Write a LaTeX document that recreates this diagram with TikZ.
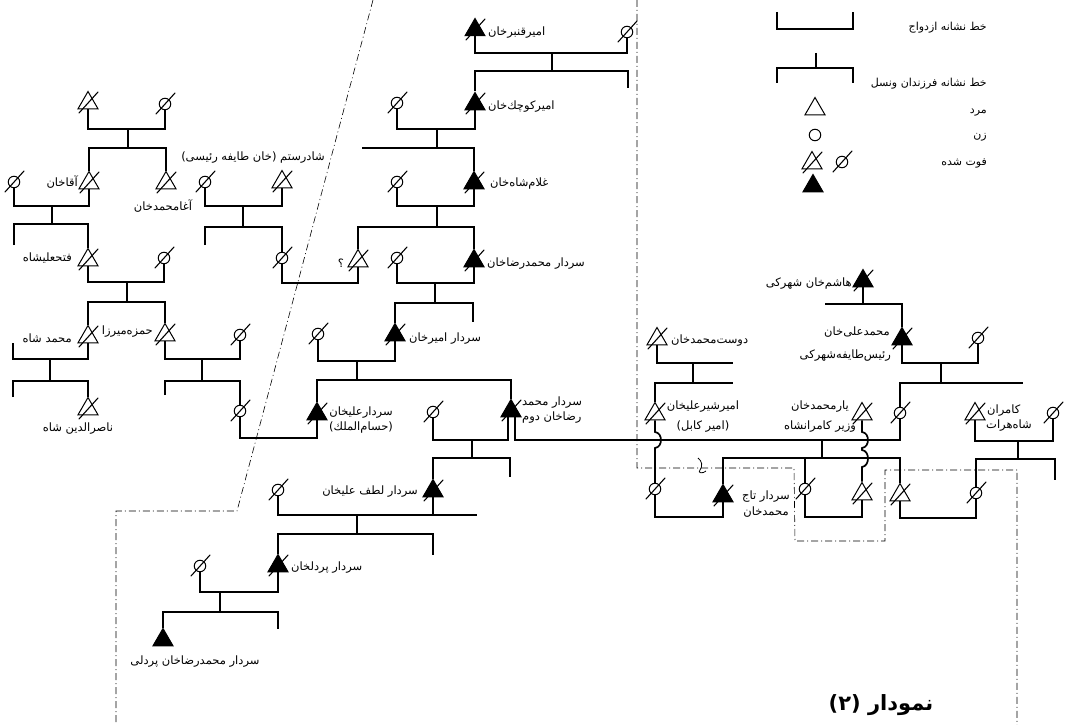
\documentclass[tikz,border=0pt]{standalone}
\usepackage{fontspec}
\usetikzlibrary{shapes.geometric,calc}
\newfontfamily\fa[Script=Arabic]{DejaVu Sans}
\newfontfamily\faL{DejaVu Sans}
\TeXXeTstate=1
\newcommand\rip[1]{\draw[slash] ($(#1.center)+(-9,10)$) -- ($(#1.center)+(10,-11)$);}
\newcommand\opp{{\faL(}}
\newcommand\clp{{\faL)}}
\begin{document}
\begin{tikzpicture}[x=1pt,y=-1pt,
 male/.style={regular polygon, regular polygon sides=3, minimum size=23pt, inner sep=0pt, draw, line width=1pt, fill=white},
 mf/.style={male, fill=black},
 female/.style={circle, minimum size=11.5pt, inner sep=0pt, draw, line width=1pt, fill=white},
 slash/.style={line width=1.1pt, line cap=round},
 tree/.style={line width=1.7pt},
 lbl/.style={font=\fa\fontsize{11.5}{13}\selectfont, inner sep=1pt},
 leg/.style={font=\fa\fontsize{11}{12}\selectfont, inner sep=1pt, anchor=east},
 bound/.style={line width=0.6pt, dash pattern=on 7pt off 3pt on 1pt off 3pt}]
\useasboundingbox (0,0) rectangle (1069,725);
\fill[white] (0,0) rectangle (1069,725);

% ---------- boundaries ----------
\draw[bound] (373,0) -- (237,511) -- (116,511) -- (116,725);
\draw[bound] (637,0) -- (637,468) -- (794,468) -- (795,541) -- (885,541) -- (885,470) -- (1017,470) -- (1017,725);
\draw[line width=0.8pt] (698,458) .. controls (702,461) and (703,466) .. (700,470) .. controls (697,473) and (703,474) .. (706,471);

% ---------- legend ----------
\draw[line width=1.2pt] (777,12) -- (777,29) -- (853,29) -- (853,12);
\draw[line width=1.2pt] (816,53) -- (816,68);
\draw[line width=1.2pt] (777,83) |- (853,68) -- (853,83);
\node[male] (legM) at (815,109) {};
\node[female] (legF) at (815,135) {};
\node[male] (legMd) at (812,163) {};
\node[female] (legFd) at (842,162) {};
\node[mf] (legMf) at (813,186) {};
\rip{legMd}\rip{legFd}
\node[leg] (lt1) at (988,28) {\beginR خط نشانه ازدواج\endR};
\node[leg] (lt2) at (988,84) {\beginR خط نشانه فرزندان ونسل\endR};
\node[leg] (lt3) at (988,113) {\beginR مرد\endR};
\node[leg] (lt4) at (988,137) {\beginR زن\endR};
\node[leg] (lt5) at (988,163) {\beginR فوت شده\endR};

% ---------- people ----------
\node[male] (qa1) at (88,103) {};
\node[female] (qa2) at (165,104) {};
\node[male] (aqa) at (89,183) {};
\node[male] (agha) at (166,183) {};
\node[female] (aqaw) at (14,182) {};
\node[male] (fath) at (88,260) {};
\node[female] (fathw) at (164,258) {};
\node[male] (mshah) at (88,337) {};
\node[male] (hamza) at (165,335) {};
\node[male] (naser) at (88,409) {};
\node[female] (hamzaw) at (240,335) {};
\node[female] (hamzad) at (240,411) {};
\node[male] (shr) at (282,182) {};
\node[female] (shrw) at (205,182) {};
\node[female] (shrd) at (282,258) {};
\node[male] (qm) at (358,261) {};
\node[mf] (qanbar) at (475,30) {};
\node[female] (qanbarw) at (627,32) {};
\node[mf] (kuchak) at (475,104) {};
\node[female] (kuchakw) at (397,103) {};
\node[mf] (gholam) at (474,183) {};
\node[female] (gholamw) at (397,182) {};
\node[mf] (mreza) at (474,261) {};
\node[female] (mrezaw) at (397,258) {};
\node[mf] (amir) at (395,335) {};
\node[female] (amirw) at (318,334) {};
\node[mf] (alikh) at (317,414) {};
\node[mf] (msII) at (511,411) {};
\node[female] (msIIw) at (433,412) {};
\node[mf] (lotf) at (433,491) {};
\node[female] (lotfw) at (278,490) {};
\node[mf] (pordel) at (278,566) {};
\node[female] (pordelw) at (200,566) {};
\node[mf] (mrp) at (163,640) {};
\node[mf] (hashem) at (863,281) {};
\node[mf] (mali) at (902,339) {};
\node[female] (maliw) at (978,338) {};
\node[female] (maliD) at (900,413) {};
\node[male] (dost) at (657,339) {};
\node[male] (shir) at (655,414) {};
\node[male] (yar) at (862,414) {};
\node[male] (kam) at (975,414) {};
\node[female] (kamw) at (1053,413) {};
\node[female] (shirD) at (655,489) {};
\node[mf] (taj) at (723,496) {};
\node[female] (msD) at (805,489) {};
\node[male] (yarS) at (862,494) {};
\node[male] (msS) at (900,495) {};
\node[female] (kamD) at (976,493) {};

\foreach \n in {qa1,qa2,aqa,agha,aqaw,fath,fathw,mshah,hamza,naser,hamzaw,hamzad,
  shr,shrw,shrd,qm,qanbar,qanbarw,kuchak,kuchakw,gholam,gholamw,mreza,mrezaw,
  amir,amirw,alikh,msII,msIIw,lotf,lotfw,pordel,pordelw,
  hashem,mali,maliw,maliD,dost,shir,yar,kam,kamw,shirD,taj,msD,yarS,msS,kamD}{\rip{\n}}

\coordinate (msIIa) at ([xshift=-3pt]msII.south);
\coordinate (msIIb) at ([xshift=4pt]msII.south);

% ---------- connectors ----------
\begin{scope}[tree]
\draw (qa1.south) |- (qa2.south |- 0,129) -- (qa2.south);
\draw (128,129) -- (128,148);
\draw (aqa.north) |- (agha.north |- 0,148) -- (agha.north);
\draw (aqaw.south) |- (aqa.south |- 0,206) -- (aqa.south);
\draw (52,206) -- (52,224);
\draw (14,245) |- (fath.north |- 0,224) -- (fath.north);
\draw (fath.south) |- (fathw.south |- 0,282) -- (fathw.south);
\draw (127,282) -- (127,302);
\draw (mshah.north) |- (hamza.north |- 0,302) -- (hamza.north);
\draw (13,343) |- (mshah.south |- 0,359) -- (mshah.south);
\draw (50,359) -- (50,381);
\draw (13,397) |- (naser.north |- 0,381) -- (naser.north);
\draw (hamza.south) |- (hamzaw.south |- 0,359) -- (hamzaw.south);
\draw (202,359) -- (202,381);
\draw (165,395) |- (hamzad.north |- 0,381) -- (hamzad.north);
\draw (hamzad.south) |- (alikh.south |- 0,438) -- (alikh.south);

\draw (shrw.south) |- (shr.south |- 0,206) -- (shr.south);
\draw (243,206) -- (243,227);
\draw (205,245) |- (shrd.north |- 0,227) -- (shrd.north);
\draw (shrd.south) |- (qm.south |- 0,283) -- (qm.south);

\draw (qanbar.south) |- (qanbarw.south |- 0,53) -- (qanbarw.south);
\draw (552,53) -- (552,71);
\draw (kuchak.north) |- (628,71) -- (628,88);
\draw (kuchakw.south) |- (kuchak.south |- 0,129) -- (kuchak.south);
\draw (437,129) -- (437,148);
\draw (362,148) -| (gholam.north);
\draw (gholamw.south) |- (gholam.south |- 0,206) -- (gholam.south);
\draw (437,206) -- (437,227);
\draw (qm.north) |- (mreza.north |- 0,227) -- (mreza.north);
\draw (mrezaw.south) |- (mreza.south |- 0,283) -- (mreza.south);
\draw (435,283) -- (435,303);
\draw (amir.north) |- (473,303) -- (473,322);
\draw (amirw.south) |- (amir.south |- 0,361) -- (amir.south);
\draw (357,361) -- (357,380);
\draw (alikh.north) |- (msII.north |- 0,380) -- (msII.north);
\draw (msIIw.south) |- (msIIa |- 0,440) -- (msIIa);
\draw (472,440) -- (472,458);
\draw (lotf.north) |- (510,458) -- (510,477);
\draw (lotf.south) -- (lotf.south |- 0,515);
\draw (lotfw.south) |- (477,515);
\draw (357,515) -- (357,534);
\draw (pordel.north) |- (433,534) -- (433,555);
\draw (pordelw.south) |- (pordel.south |- 0,592) -- (pordel.south);
\draw (220,592) -- (220,612);
\draw (mrp.north) |- (278,612) -- (278,629);

\draw (hashem.south) -- (hashem.south |- 0,304);
\draw (825,304) -| (mali.north);
\draw (mali.south) |- (maliw.south |- 0,363) -- (maliw.south);
\draw (941,363) -- (941,383);
\draw (maliD.north) |- (1023,383);
\draw (dost.south) |- (733,363);
\draw (693,363) -- (693,383);
\draw (shir.north) |- (733,383);
\draw (msIIb) |- (maliD.south |- 0,440) -- (maliD.south);
\draw (822,440) -- (822,458);
\draw (taj.north) |- (msS.north |- 0,458) -- (msS.north);
\draw (msD.north) -- (msD.north |- 0,458);
\draw (shir.south) -- (655,432) .. controls (663,433) and (663,447) .. (655,448) -- (shirD.north);
\draw (shirD.south) |- (taj.south |- 0,517) -- (taj.south);
\draw (yar.south) -- (862,432) .. controls (870,433) and (870,447) .. (862,448) -- (862,450) .. controls (870,451) and (870,466) .. (862,467) -- (yarS.north);
\draw (msD.south) |- (yarS.south |- 0,517) -- (yarS.south);
\draw (kam.south) |- (kamw.south |- 0,441) -- (kamw.south);
\draw (1018,441) -- (1018,459);
\draw (kamD.north) |- (1055,459) -- (1055,480);
\draw (msS.south) |- (kamD.south |- 0,518) -- (kamD.south);
\end{scope}

% ---------- labels ----------
\node[lbl, anchor=east] (t-aqa) at (79,182) {\beginR آقاخان\endR};
\node[lbl] (t-agha) at (163,206) {\beginR آغامحمدخان\endR};
\node[lbl] (t-shr) at (253,158) {\opp\beginR خان طایفه رئیسی\endR\clp\ \beginR شادرستم\endR};
\node[lbl, anchor=east] (t-fath) at (73,258) {\beginR فتحعلیشاه\endR};
\node[lbl, anchor=east] (t-msh) at (73,338) {\beginR محمد شاه\endR};
\node[lbl, anchor=east] (t-ham) at (154,332) {\beginR حمزه‌میرزا\endR};
\node[lbl] (t-nas) at (78,429) {\beginR ناصرالدین شاه\endR};
\node[lbl] (t-q) at (341,263) {\beginR ؟\endR};
\node[lbl, anchor=west] (t-qan) at (487,33) {\beginR امیرقنبرخان\endR};
\node[lbl, anchor=west] (t-kuc) at (487,107) {\beginR امیرکوچك‌خان\endR};
\node[lbl, anchor=west] (t-gho) at (489,184) {\beginR غلام‌شاه‌خان\endR};
\node[lbl, anchor=west] (t-mre) at (486,264) {\beginR سردار محمدرضاخان\endR};
\node[lbl, anchor=west] (t-ami) at (408,339) {\beginR سردار امیرخان\endR};
\node[lbl] (t-ali1) at (361,413) {\beginR سردارعلیخان\endR};
\node[lbl] (t-ali2) at (361,428) {\opp\beginR حسام‌الملك\endR\clp};
\node[lbl, anchor=west] (t-ms1) at (521,403) {\beginR سردار محمد\endR};
\node[lbl, anchor=west] (t-ms2) at (521,418) {\beginR رضاخان دوم\endR};
\node[lbl, anchor=east] (t-lot) at (419,492) {\beginR سردار لطف علیخان\endR};
\node[lbl, anchor=west] (t-por) at (290,568) {\beginR سردار پردلخان\endR};
\node[lbl] (t-mrp) at (195,662) {\beginR سردار محمدرضاخان پردلی\endR};
\node[lbl, anchor=east] (t-has) at (853,284) {\beginR هاشم‌خان شهرکی\endR};
\node[lbl, anchor=east] (t-mal1) at (891,332) {\beginR محمدعلی‌خان\endR};
\node[lbl, anchor=east] (t-mal2) at (892,356) {\beginR رئیس‌طایفه‌شهرکی\endR};
\node[lbl, anchor=west] (t-dos) at (670,341) {\beginR دوست‌محمدخان\endR};
\node[lbl] (t-shi1) at (703,407) {\beginR امیرشیرعلیخان\endR};
\node[lbl] (t-shi2) at (703,427) {\opp\beginR امیر کابل\endR\clp};
\node[lbl] (t-yar1) at (820,407) {\beginR یارمحمدخان\endR};
\node[lbl] (t-yar2) at (820,427) {\beginR وزیر کامرانشاه\endR};
\node[lbl, anchor=west] (t-kam1) at (986,411) {\beginR کامران\endR};
\node[lbl, anchor=west] (t-kam2) at (985,426) {\beginR شاه‌هرات\endR};
\node[lbl] (t-taj1) at (766,497) {\beginR سردار تاج\endR};
\node[lbl] (t-taj2) at (766,512) {\beginR محمدخان\endR};
\node[font=\fa\bfseries\fontsize{21}{24}\selectfont] (title) at (881,705) {{\faL\bfseries (۲)}\ \beginR نمودار\endR};
\end{tikzpicture}
\end{document}
